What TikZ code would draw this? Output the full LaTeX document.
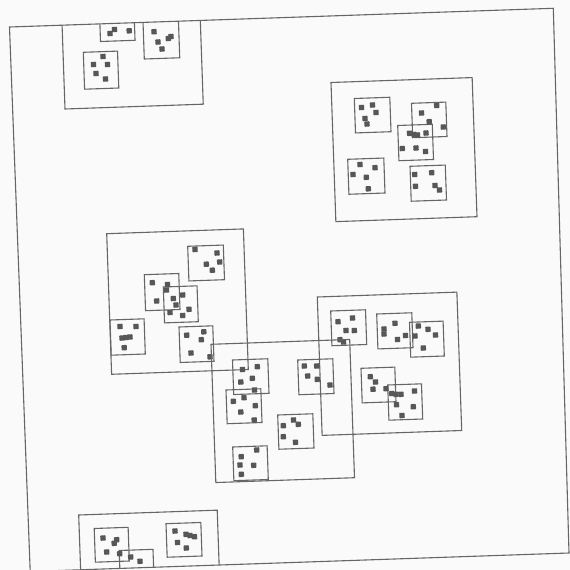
\documentclass[tikz,border=0pt]{standalone}
\def\myox{9.5}\def\myoy{27}\def\mycos{0.99939}\def\mysin{0.0349}
\newcommand\mybox[4]{\draw[boxline] ({(#1-\myox)*\mycos-(#2-\myoy)*\mysin},{(#1-\myox)*\mysin+(#2-\myoy)*\mycos}) rectangle ({(#3-\myox)*\mycos-(#4-\myoy)*\mysin},{(#3-\myox)*\mysin+(#4-\myoy)*\mycos});}
\newcommand\mydot[2]{\fill[dotfill] ({(#1-\myox)*\mycos-(#2-\myoy)*\mysin},{(#1-\myox)*\mysin+(#2-\myoy)*\mycos}) +(-2.7,-2.7) rectangle +(2.7,2.7);}
\tikzset{
  boxline/.style={draw=black!60, line width=1.1pt},
  dotfill/.style={fill=black!66, rounded corners=0.8pt},
}
\begin{document}
\begin{tikzpicture}[x=1pt,y=-1pt]
\fill[black!2] (0,0) rectangle (570,570);
\useasboundingbox (0,0) rectangle (570,570);
\coordinate (TL) at (9.5,27);
\coordinate (TR) at (553.3,8.3);
\coordinate (BR) at (569,553);
\coordinate (BL) at (30.2,571.5);
\begin{scope}
\clip (TL) -- (TR) -- (BR) -- (BL) -- cycle;
\begin{scope}[shift={(9.5,27)}, rotate=2]
% box A
\mybox{65}{109}{199.6}{0}
\mybox{100.5}{41.5}{133.8}{5}
\mybox{144.3}{59}{177.9}{5}
\mybox{83.3}{52.3}{118.8}{88}
\mydot{110}{33.5}\mydot{114.5}{29.5}\mydot{129.2}{30.8}
\mydot{154}{31.7}\mydot{158}{42}\mydot{162}{49}\mydot{168.3}{38.5}\mydot{171}{36.5}
\mydot{93.5}{64.5}\mydot{103}{56.5}\mydot{107.5}{64.5}\mydot{96}{73.5}\mydot{105.5}{79}
% box B
\mybox{331}{82.5}{477}{216.7}
\mybox{354.3}{98.5}{391}{131.7}
\mybox{411.5}{103.3}{447}{136.5}
\mybox{397.7}{125.5}{433.5}{159.5}
\mybox{347.7}{159.3}{385}{193}
\mybox{410}{166.3}{446.5}{200}
\mydot{361.5}{107.5}\mydot{372.5}{105}\mydot{376}{112.5}\mydot{365}{118.5}\mydot{367}{124}
\mydot{421.5}{113}\mydot{436.7}{105.5}\mydot{429.2}{121.7}\mydot{443.3}{127}
\mydot{409.5}{133.3}\mydot{414}{134.5}\mydot{417.5}{135}\mydot{426}{133}\mydot{402.3}{148.5}\mydot{416}{148}\mydot{425.5}{151.5}
\mydot{360}{164.5}\mydot{375}{167.7}\mydot{353}{174.5}\mydot{366.3}{177.3}\mydot{368.3}{188.8}
\mydot{414.7}{174.5}\mydot{431.7}{172.7}\mydot{415.5}{186.3}\mydot{435}{185.5}\mydot{439.5}{190}
% box C
\mybox{106.7}{233.7}{248.3}{369.5}
\mybox{187.7}{246.3}{224.5}{279.7}
\mybox{144.3}{274.7}{180}{309.5}
\mybox{163.3}{287}{198.3}{321.7}
\mybox{110}{320}{145.3}{354}
\mybox{179}{327}{214}{361.3}
\mydot{195}{249.5}\mydot{217}{253}\mydot{219.7}{262}\mydot{206.3}{264.2}\mydot{212.3}{270.2}
\mydot{152.3}{282.7}\mydot{167.5}{284.5}\mydot{166.5}{290}\mydot{156.7}{301}
\mydot{173.3}{298.5}\mydot{182.7}{295}\mydot{176}{305}\mydot{189}{309.3}\mydot{170}{312.5}\mydot{182.7}{315.5}
\mydot{120}{326.5}\mydot{136}{326.5}\mydot{122}{338}\mydot{126}{337.5}\mydot{130}{337}\mydot{124.2}{347.7}
\mydot{186.7}{335.2}\mydot{203.8}{331.8}\mydot{201.3}{339.7}\mydot{191}{353}\mydot{210}{356.8}
% box D
\mybox{317.3}{297}{461.7}{430.5}
\mybox{330.7}{311}{366.7}{344.5}
\mybox{376.7}{314}{413}{347.7}
\mybox{409.5}{322.3}{444.3}{356}
\mybox{361}{368.3}{396}{401.7}
\mybox{387.7}{385}{422.7}{419}
\mydot{338}{321.7}\mydot{352.5}{318}\mydot{346}{330.5}\mydot{354.3}{330.5}\mydot{340}{339.7}\mydot{343.5}{342}
\mydot{384}{329}\mydot{384}{334}\mydot{395}{323.3}\mydot{397.5}{339.5}\mydot{405.5}{335.5}
\mydot{418.3}{326}\mydot{428}{329.3}\mydot{435.5}{335}\mydot{415}{336}\mydot{423.3}{348}
\mydot{370.3}{376.7}\mydot{375.5}{382}\mydot{373}{389.2}\mydot{386}{388.7}
\mydot{391.7}{393.5}\mydot{396}{394.3}\mydot{401}{394.3}\mydot{414.5}{391}\mydot{396.5}{404.7}\mydot{413.3}{406.7}\mydot{402}{415.5}
% box E
\mybox{211}{344.3}{354.5}{477.7}
\mybox{232.5}{360}{269}{393.3}
\mybox{226}{390}{262}{422.5}
\mybox{297.7}{360}{334}{393.5}
\mybox{277.7}{415}{314}{448}
\mybox{232.7}{447}{268.3}{479.5}
\mydot{242.5}{369.5}\mydot{257.3}{366.7}\mydot{240.8}{382}\mydot{252.3}{378.3}\mydot{254.5}{390}
\mydot{233.3}{401.3}\mydot{244}{397.7}\mydot{255.3}{405.7}\mydot{240.8}{412}\mydot{254.2}{420}
\mydot{304.3}{366}\mydot{316.7}{366}\mydot{307.7}{376}\mydot{317.3}{379.3}\mydot{330}{385}
\mydot{283.3}{425.7}\mydot{293.5}{420}\mydot{298.3}{424.3}\mydot{283.3}{436.7}\mydot{295.5}{442.3}
\mydot{241.2}{456.7}\mydot{256.7}{450}\mydot{240}{465}\mydot{253.7}{465.3}\mydot{241.3}{474.3}
% box F
\mybox{78.7}{515}{220}{590}
\mybox{94.2}{528.5}{129.3}{561}
\mybox{119.2}{550.5}{154.4}{590}
\mybox{166}{523.7}{202}{556}
\mydot{103}{538}\mydot{116.7}{539.7}\mydot{114.2}{543.3}\mydot{106.7}{552}\mydot{119.7}{553.7}
\mydot{130.7}{557}\mydot{140}{561.3}
\mydot{175}{531}\mydot{186}{534.3}\mydot{190}{535.5}\mydot{194.5}{536.7}\mydot{177.5}{542.5}\mydot{186.3}{548}
\end{scope}
\end{scope}
\draw[boxline] (TL) -- (TR) -- (BR) -- (BL) -- cycle;
\end{tikzpicture}
\end{document}
